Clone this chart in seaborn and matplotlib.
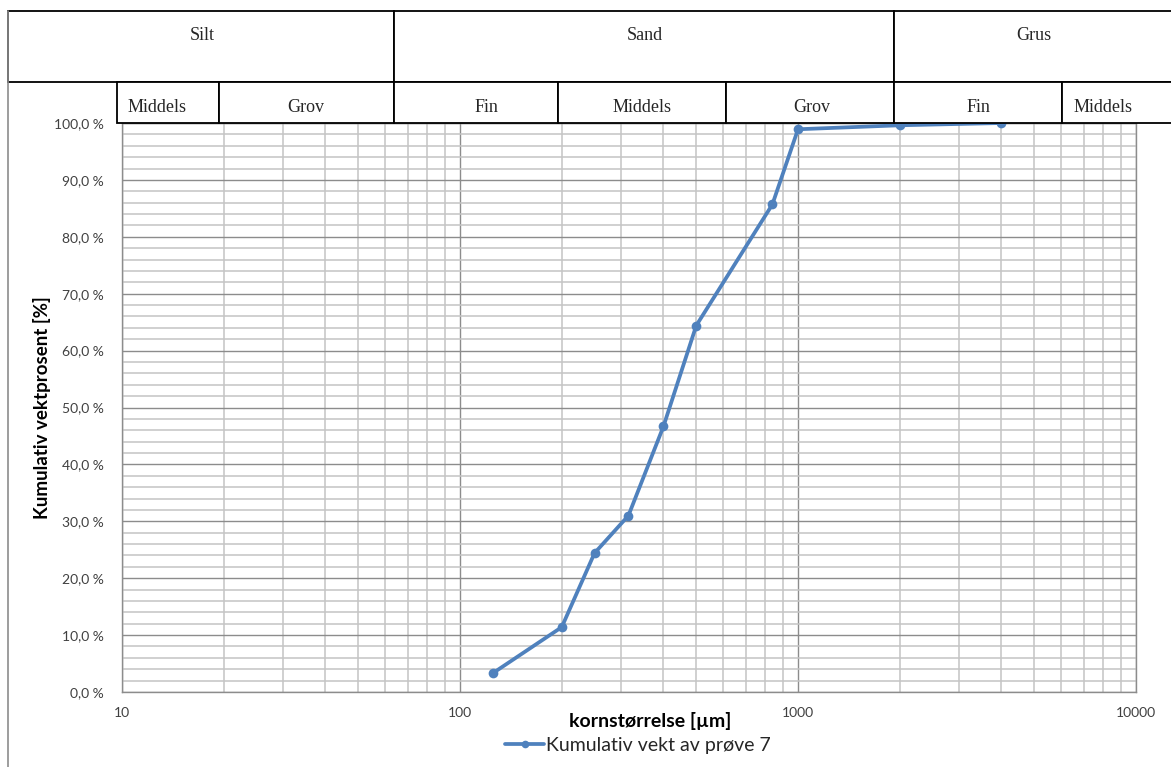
import matplotlib
matplotlib.use("Agg")
import matplotlib.pyplot as plt
from matplotlib.patches import Rectangle
from matplotlib.lines import Line2D
from matplotlib.ticker import FixedLocator, FuncFormatter, NullFormatter
import numpy as np
import pandas as pd
import seaborn as sns

# Sieve sizes (µm) and cumulative passing weight (%)
grain_size = [125, 200, 250, 315, 400, 500, 840, 1000, 2000, 4000]
cumulative_pct = [3.3, 11.4, 24.4, 31.0, 46.7, 64.4, 85.7, 98.9, 99.6, 100.0]
series_name = "Kumulativ vekt av prøve 7"

x_ticks = [10, 100, 1000, 10000]
x_tick_labels = ["10", "100", "1000", "10000"]
y_ticks = [0, 10, 20, 30, 40, 50, 60, 70, 80, 90, 100]

# Grain-size classification header
main_classes = ["Silt", "Sand", "Grus"]
sub_classes = ["Middels", "Grov", "Fin", "Middels", "Grov", "Fin", "Middels"]

W, H = 1171, 767
sns.set_theme(style="white")
plt.rcParams["font.family"] = ["Lato", "DejaVu Sans"]

fig = plt.figure(figsize=(W / 100, H / 100), dpi=100)
fig.patch.set_facecolor("white")


def fx(x):
    return x / W


def fy(y):
    return 1 - y / H


ax = fig.add_axes([fx(122), fy(692), fx(1136) - fx(122), fy(123) - fy(692)])

df = pd.DataFrame({"size": grain_size, "pct": cumulative_pct})
sns.lineplot(data=df, x="size", y="pct", ax=ax, color="#4F81BD", linewidth=2.7,
             marker="o", markersize=7, markeredgewidth=0, label=series_name,
             zorder=5, clip_on=False, sort=False)

ax.set_xscale("log")
ax.set_xlim(10, 10000)
ax.set_ylim(0, 100)

# Grid: darker major lines, lighter minor lines
minor_x = [m * 10 ** e for e in range(1, 4) for m in range(2, 10)]
ax.xaxis.set_major_locator(FixedLocator(x_ticks))
ax.xaxis.set_minor_locator(FixedLocator(minor_x))
ax.xaxis.set_minor_formatter(NullFormatter())
ax.set_xticklabels(x_tick_labels)
ax.yaxis.set_major_locator(FixedLocator(y_ticks))
ax.yaxis.set_minor_locator(FixedLocator([v for v in range(0, 101, 2) if v % 10]))
ax.yaxis.set_major_formatter(FuncFormatter(lambda v, p: f"{v:.1f} %".replace(".", ",")))

ax.grid(which="minor", color="#C4C4C4", linewidth=1.1, zorder=0)
ax.grid(which="major", color="#8C8C8C", linewidth=1.0, zorder=0)
ax.set_axisbelow(True)

ax.tick_params(axis="x", which="major", direction="out", length=6, width=1,
               color="#8C8C8C", pad=5, labelsize=10, labelcolor="#404040")
ax.tick_params(axis="y", which="major", direction="out", length=6, width=1,
               color="#8C8C8C", pad=7, labelsize=10, labelcolor="#404040")
ax.tick_params(which="minor", length=0)
for s in ax.spines.values():
    s.set_color("#8C8C8C")
    s.set_linewidth(1.0)

ax.set_xlabel("")
ax.set_ylabel("")
fig.text(fx(650), fy(721), "kornstørrelse [µm]", ha="center", va="center",
         fontsize=14, fontweight="bold", color="black")
fig.text(fx(42), fy(408), "Kumulativ vektprosent [%]", ha="center", va="center",
         rotation=90, fontsize=13.5, fontweight="bold", color="black")

leg = ax.legend(loc="center", bbox_to_anchor=(fx(638), fy(745)),
                bbox_transform=fig.transFigure, frameon=False, fontsize=14,
                handlelength=2.0, handletextpad=0.1, borderpad=0)
for h in leg.legend_handles:
    h.set_markersize(5.5)

# Chart-area border on the left
fig.add_artist(Line2D([fx(8), fx(8)], [fy(11), fy(767)], color="#8C8C8C",
                      linewidth=1.2, transform=fig.transFigure))

# Classification table above the plot
serif = ["Liberation Serif", "DejaVu Serif"]
edge = dict(edgecolor="black", facecolor="white", linewidth=1.3,
            transform=fig.transFigure)


def cell(x0, y0, x1, y1):
    fig.add_artist(Rectangle((fx(x0), fy(y1)), fx(x1) - fx(x0),
                             fy(y0) - fy(y1), **edge))


top_bounds = [8, 394, 894, 1180]
top_text_x = [202, 645, 1034]
for i, name in enumerate(main_classes):
    cell(top_bounds[i], 11, top_bounds[i + 1], 82)
    fig.text(fx(top_text_x[i]), fy(35), name, ha="center", va="center",
             family=serif, fontsize=13)

sub_bounds = [117, 219, 394, 558, 726, 894, 1062, 1180]
sub_text_x = [157, 306, 486, 642, 812, 978, 1103]
for i, name in enumerate(sub_classes):
    cell(sub_bounds[i], 82, sub_bounds[i + 1], 123)
    fig.text(fx(sub_text_x[i]), fy(107), name, ha="center", va="center",
             family=serif, fontsize=13)

fig.savefig("out.png", dpi=100, facecolor="white")
